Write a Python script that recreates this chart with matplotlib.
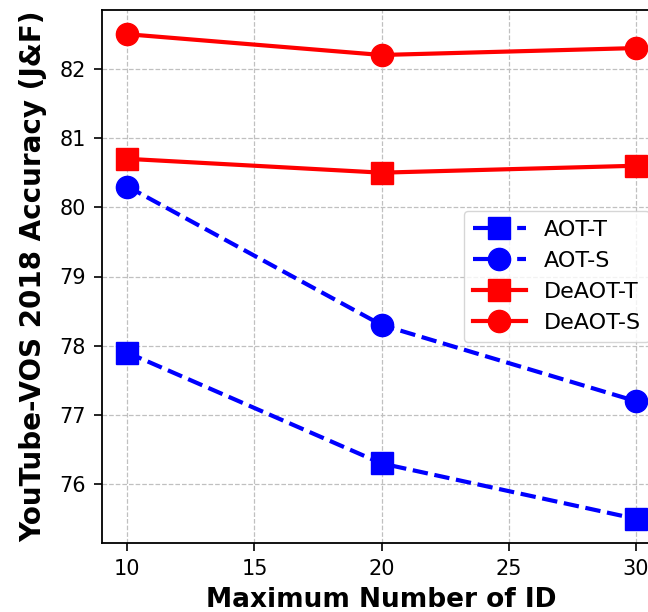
import matplotlib
matplotlib.use("Agg")
import matplotlib.pyplot as plt

max_ids = [10, 20, 30]
aot_t = [77.9, 76.3, 75.5]
aot_s = [80.3, 78.3, 77.2]
deaot_t = [80.7, 80.5, 80.6]
deaot_s = [82.5, 82.2, 82.3]
series_labels = ["AOT-T", "AOT-S", "DeAOT-T", "DeAOT-S"]

fig = plt.figure(figsize=(6.48, 6.12), dpi=100)
ax = fig.add_axes([102/648, 69/612, 559/648, 533/612])

ax.plot(max_ids, aot_t, color="blue", linestyle="--", linewidth=3, marker="s", markersize=16, label=series_labels[0])
ax.plot(max_ids, aot_s, color="blue", linestyle="--", linewidth=3, marker="o", markersize=16, label=series_labels[1])
ax.plot(max_ids, deaot_t, color="red", linestyle="-", linewidth=3, marker="s", markersize=16, label=series_labels[2])
ax.plot(max_ids, deaot_s, color="red", linestyle="-", linewidth=3, marker="o", markersize=16, label=series_labels[3])

ax.set_xticks([10, 15, 20, 25, 30])
ax.set_yticks([76, 77, 78, 79, 80, 81, 82])
ax.tick_params(labelsize=15, length=5.5, width=1.2, pad=6)
ax.grid(True, linestyle="--", color="#c0c0c0", linewidth=0.9)
ax.set_axisbelow(True)
for s in ax.spines.values():
    s.set_linewidth(1.3)

ax.set_xlabel("Maximum Number of ID", fontsize=19, fontweight="bold", labelpad=6)
ax.set_ylabel("YouTube-VOS 2018 Accuracy (J&F)", fontsize=20, fontweight="bold", labelpad=9)
ax.legend(loc="center right", fontsize=16, handlelength=2.4)

fig.savefig("out.png", dpi=100)
